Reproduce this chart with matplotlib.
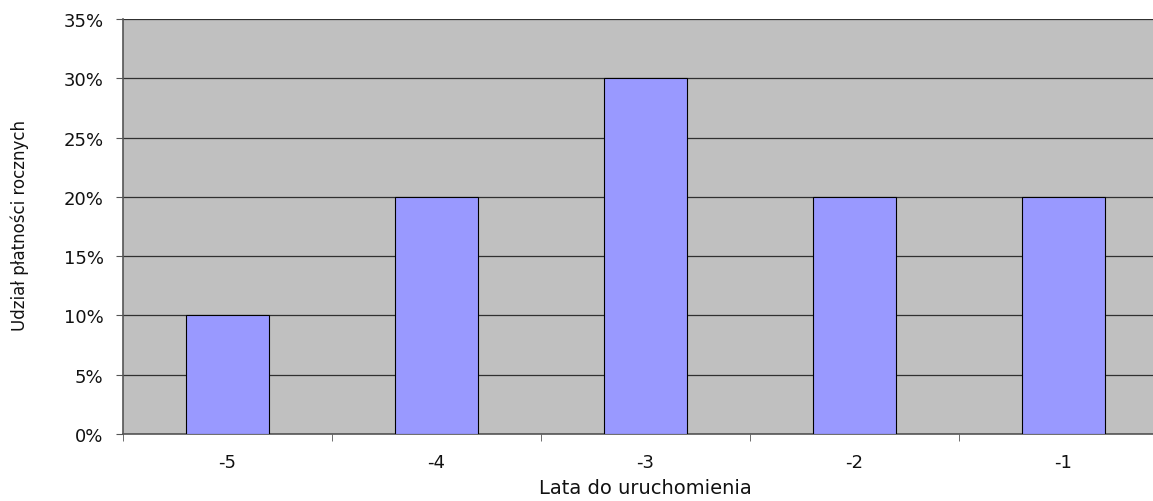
import numpy as np
import matplotlib.pyplot as plt
from matplotlib.ticker import FuncFormatter

# data
categories = ["-5", "-4", "-3", "-2", "-1"]
shares = [10, 20, 30, 20, 20]  # percent
y_ticks = [0, 5, 10, 15, 20, 25, 30, 35]

fig = plt.figure(figsize=(11.53, 5.02), dpi=100)
# right edge of the plot area runs past the picture, as in the original
ax = fig.add_axes([0.1067, 0.1335, 0.9063, 0.8267])
ax.set_facecolor("#C0C0C0")

x = np.arange(len(categories))
ax.bar(x, shares, width=0.4, color="#9999FF", edgecolor="black", linewidth=0.8, zorder=3)

ax.set_xlim(-0.5, len(categories) - 0.5)
ax.set_ylim(0, 35)
ax.set_yticks(y_ticks)
ax.yaxis.set_major_formatter(FuncFormatter(lambda v, p: f"{v:.0f}%"))
ax.yaxis.grid(True, color="#303030", linewidth=0.9, zorder=1)

# category labels centred, tick marks between categories
ax.set_xticks(x)
ax.set_xticklabels(categories)
ax.set_xticks(np.arange(-0.5, len(categories), 1.0), minor=True)
ax.tick_params(axis="x", which="major", length=0, pad=14, labelsize=13, labelcolor="#111111")
ax.tick_params(axis="x", which="minor", length=5, color="#555555", direction="out")
ax.tick_params(axis="y", length=5, color="#555555", labelsize=13, pad=9, labelcolor="#111111")

for s in ["top", "right"]:
    ax.spines[s].set_visible(False)
for s in ["left", "bottom"]:
    ax.spines[s].set_color("#555555")
    ax.spines[s].set_linewidth(1.2)

ax.set_xlabel("Lata do uruchomienia", fontsize=14, labelpad=5, color="#111111")
fig.text(0.017, 0.55, "Udział płatności rocznych", rotation=90, fontsize=12,
         ha="center", va="center", color="#111111")

fig.savefig("out.png", dpi=100)
